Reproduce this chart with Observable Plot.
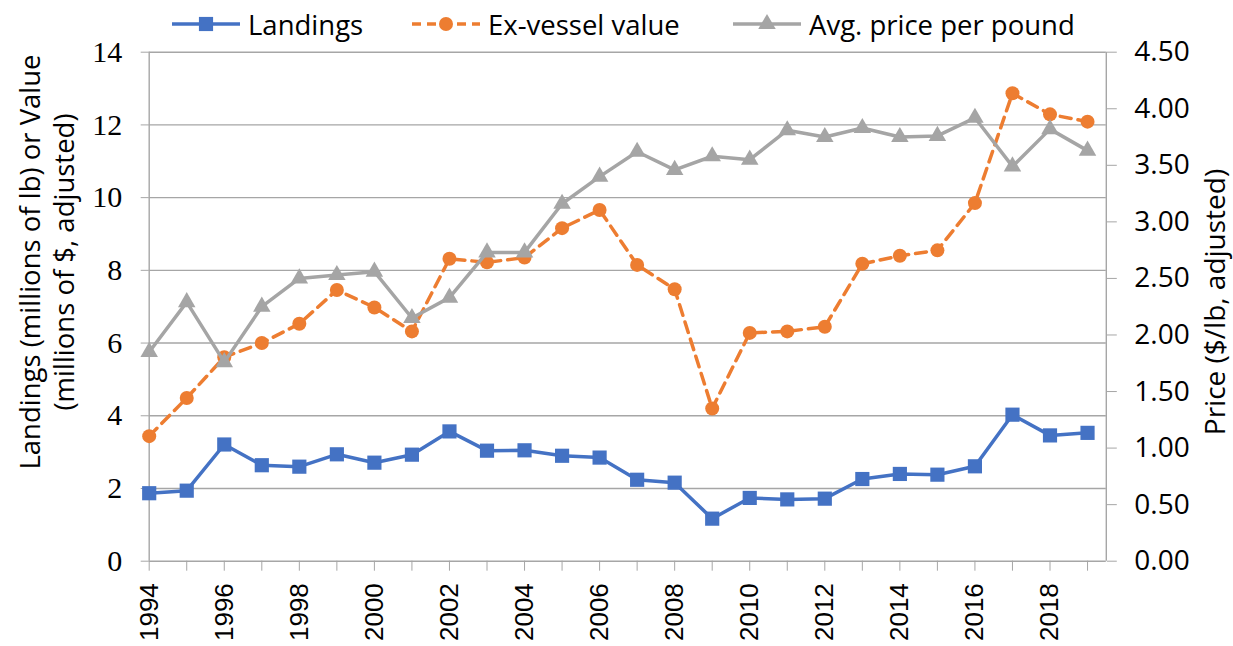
<!DOCTYPE html>
<html><head><meta charset="utf-8">
<script src="https://cdn.jsdelivr.net/npm/d3@7"></script>
<script src="https://cdn.jsdelivr.net/npm/@observablehq/plot@0.6"></script>
<style>
body{margin:0;background:#fff;}
#wrap{position:relative;width:1233px;height:646px;}
#legend{position:absolute;top:4px;left:0;width:1233px;height:40px;font-family:"Open Sans",sans-serif;font-size:27.5px;color:#000;z-index:2;}
.item{position:absolute;top:0;height:40px;display:flex;align-items:center;white-space:nowrap;}
.item svg{margin-right:7px;}
</style></head><body>
<div id="wrap"><div id="legend"></div><div id="chart"></div></div>
<script>
const years = [1994,1995,1996,1997,1998,1999,2000,2001,2002,2003,2004,2005,2006,2007,2008,2009,2010,2011,2012,2013,2014,2015,2016,2017,2018,2019];
const landings = [1.87,1.94,3.21,2.64,2.60,2.94,2.71,2.93,3.57,3.04,3.05,2.90,2.85,2.24,2.16,1.17,1.74,1.70,1.72,2.26,2.40,2.38,2.61,4.03,3.46,3.53];
const exVessel = [3.44,4.49,5.61,6.00,6.53,7.46,6.98,6.32,8.32,8.22,8.35,9.16,9.66,8.15,7.48,4.20,6.28,6.32,6.45,8.18,8.40,8.55,9.85,12.87,12.29,12.09];
const price = [1.85,2.29,1.76,2.25,2.50,2.53,2.56,2.15,2.33,2.73,2.73,3.16,3.40,3.62,3.46,3.58,3.55,3.81,3.75,3.83,3.75,3.76,3.92,3.49,3.82,3.63];
const leftTicks = [0,2,4,6,8,10,12,14];
const rightTicks = [0,0.5,1,1.5,2,2.5,3,3.5,4,4.5];
const labelYears = [1994,1996,1998,2000,2002,2004,2006,2008,2010,2012,2014,2016,2018];
const seriesNames = ["Landings","Ex-vessel value","Avg. price per pound"];
const colors = ["#4472C4","#ED7D31","#A5A5A5"];
const leftTitle = ["Landings (millions of lb) or Value","(millions of $, adjusted)"];
const rightTitle = "Price ($/lb, adjusted)";

const LEFT_MAX = 14, RIGHT_MAX = 4.5, RATIO = LEFT_MAX / RIGHT_MAX;
const data = years.map((y, i) => ({year: y, landings: landings[i], value: exVessel[i], price: price[i]}));
const axisGray = "#a6a6a6";
const SERIF = "Liberation Serif", SANS = "Open Sans", ARIAL = "Liberation Sans";

const plot = Plot.plot({
  width: 1233, height: 646,
  marginLeft: 148.7, marginRight: 127.2, marginTop: 51.7, marginBottom: 85.3,
  x: {domain: [1994, 2019.5]},
  y: {domain: [0, LEFT_MAX]},
  style: {background: "white", overflow: "visible"},
  marks: [
    Plot.gridY(leftTicks, {stroke: axisGray, strokeOpacity: 1, strokeWidth: 1.4}),
    Plot.ruleX([1994, 2019.5], {stroke: axisGray, strokeWidth: 1.4}),
    Plot.axisY(leftTicks, {anchor: "left", tickSize: 8, tickPadding: 19, stroke: axisGray, fill: "#000",
      fontFamily: SERIF, fontSize: 30, label: null, tickFormat: d => String(d)}),
    Plot.axisY(rightTicks.map(v => v * RATIO), {anchor: "right", tickSize: 10, tickPadding: 18, stroke: axisGray, fill: "#000",
      fontFamily: SANS, fontSize: 28, label: null, tickFormat: d => (d / RATIO).toFixed(2)}),
    Plot.axisX(years, {anchor: "bottom", tickSize: 10, tickPadding: 12, tickRotate: -90, stroke: axisGray, fill: "#000",
      fontFamily: ARIAL, fontSize: 26, label: null,
      tickFormat: d => labelYears.includes(d) ? String(d) : ""}),
    Plot.line(data, {x: "year", y: "landings", stroke: colors[0], strokeWidth: 3.5}),
    Plot.dot(data, {x: "year", y: "landings", symbol: "square", r: 8, fill: colors[0], stroke: "none"}),
    Plot.line(data, {x: "year", y: "value", stroke: colors[1], strokeWidth: 3.5, strokeDasharray: "11,7"}),
    Plot.dot(data, {x: "year", y: "value", symbol: "circle", r: 7, fill: colors[1], stroke: "none"}),
    Plot.line(data, {x: "year", y: d => d.price * RATIO, stroke: colors[2], strokeWidth: 3.5}),
    Plot.dot(data, {x: "year", y: d => d.price * RATIO, symbol: "triangle", r: 6.5, fill: colors[2], stroke: "none"})
  ]
});
document.getElementById("chart").appendChild(plot);

// make sure tick label fonts stick
const svg = d3.select(plot);
const yGroups = svg.selectAll('g[aria-label="y-axis tick label"]').nodes();
if (yGroups[0]) d3.select(yGroups[0]).selectAll("text").style("font-family", `'${SERIF}'`);
if (yGroups[1]) d3.select(yGroups[1]).selectAll("text").style("font-family", `'${SANS}'`);
svg.selectAll('g[aria-label="x-axis tick label"] text').style("font-family", `'${ARIAL}'`);

// axis titles
svg.append("text").attr("transform", "translate(40,262) rotate(-90)").attr("text-anchor", "middle")
  .style("font-family", `'${SANS}'`).attr("font-size", 27.5).attr("fill", "#000").text(leftTitle[0]);
svg.append("text").attr("transform", "translate(74,262) rotate(-90)").attr("text-anchor", "middle")
  .style("font-family", `'${SANS}'`).attr("font-size", 27.5).attr("fill", "#000").text(leftTitle[1]);
svg.append("text").attr("transform", "translate(1225,302) rotate(-90)").attr("text-anchor", "middle")
  .style("font-family", `'${SANS}'`).attr("font-size", 28).attr("fill", "#000").text(rightTitle);

// legend
const legendLeft = [171, 411, 732];
const markers = ["square", "circle", "triangle"];
const legend = d3.select("#legend");
seriesNames.forEach((name, i) => {
  const item = legend.append("div").attr("class", "item").style("left", legendLeft[i] + "px");
  const s = item.append("svg").attr("width", 70).attr("height", 24);
  s.append("line").attr("x1", 1).attr("x2", 69).attr("y1", 12).attr("y2", 12)
    .attr("stroke", colors[i]).attr("stroke-width", 3.5).attr("stroke-dasharray", i === 1 ? "9,6" : null);
  const sym = {square: d3.symbolSquare, circle: d3.symbolCircle, triangle: d3.symbolTriangle}[markers[i]];
  const r = [8, 7, 6.5][i];
  s.append("path").attr("transform", "translate(35,12)").attr("fill", colors[i])
    .attr("d", d3.symbol(sym, Math.PI * r * r)());
  item.append("span").text(name);
});
</script>
</body></html>
